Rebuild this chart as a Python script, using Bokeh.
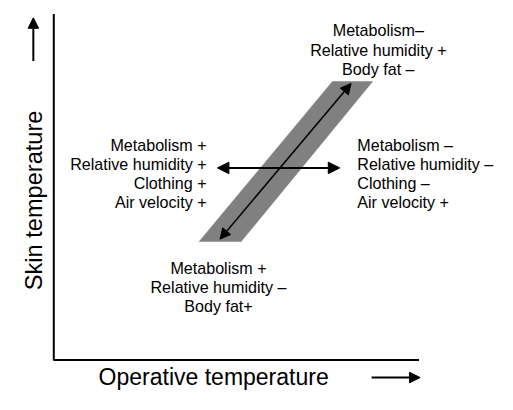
import math
from bokeh.plotting import figure
from bokeh.models import Range1d, Arrow, NormalHead
from bokeh.core.properties import value
from bokeh.embed import file_html
from bokeh.resources import INLINE

# Schematic coordinates: operative temperature (x) and skin temperature (y), axis frame 0..100
frame_x = [0, 0, 100]
frame_y = [100, 0, 0]

band_x = [76.3, 87.3, 51.3, 39.8]
band_y = [80.5, 80.5, 34.2, 34.2]

diag_start = (45.5, 34.9)
diag_end = (81.4, 79.9)

horiz_start = (44.8, 55.5)
horiz_end = (78.3, 55.5)

yarrow_start = (-5.6, 86.4)
yarrow_end = (-5.6, 98.9)
xarrow_start = (87.0, -5.1)
xarrow_end = (100.3, -5.1)

left_lines = ["Metabolism +", "Relative humidity +", "Clothing +", "Air velocity +"]
right_lines = ["Metabolism \u2013", "Relative humidity \u2013", "Clothing \u2013", "Air velocity +"]
top_lines = ["Metabolism\u2013", "Relative humidity +", "Body fat \u2013"]
bottom_lines = ["Metabolism +", "Relative humidity \u2013", "Body fat+"]

x_label = "Operative temperature"
y_label = "Skin temperature"

FONT = value("Liberation Sans")
LINE_STEP = 5.556  # one text line

p = figure(width=497, height=394,
           x_range=Range1d(-14.589, 121.485), y_range=Range1d(-10.0, 103.889),
           x_axis_type=None, y_axis_type=None,
           output_backend="svg", toolbar_location=None, min_border=0)
p.grid.visible = False
p.outline_line_color = None
p.background_fill_color = "white"
p.border_fill_color = "white"

# band
p.patch(band_x, band_y, fill_color="#808080", line_color="#808080", line_width=0.5)

# frame (axes)
p.line(frame_x, frame_y, line_color="black", line_width=2)

def arrow(s, e, lw, size, both=True):
    kw = dict(end=NormalHead(size=size, fill_color="black", line_color="black", line_width=1),
              x_start=s[0], y_start=s[1], x_end=e[0], y_end=e[1],
              line_color="black", line_width=lw)
    kw["start"] = NormalHead(size=size, fill_color="black", line_color="black", line_width=1) if both else None
    p.add_layout(Arrow(**kw))

arrow(diag_start, diag_end, 1.5, 10.5)
arrow(horiz_start, horiz_end, 2, 11.5)
arrow(yarrow_start, yarrow_end, 2, 10.5, both=False)
arrow(xarrow_start, xarrow_end, 2, 10.5, both=False)

def block(lines, x, y0, align):
    ys = [y0 - i * LINE_STEP for i in range(len(lines))]
    p.text(x=[x] * len(lines), y=ys, text=lines, text_align=align,
           text_baseline="alphabetic", text_font=FONT,
           text_font_size=value("16.1px"), text_color="black")

block(left_lines, 41.83, 62.22, "right")
block(right_lines, 83.10, 62.22, "left")
block(top_lines, 88.86, 95.28, "center")
block(bottom_lines, 45.09, 26.67, "center")

p.text(x=[43.77], y=[-1.04], text=[x_label], text_align="center",
       text_baseline="top", text_font=FONT,
       text_font_size=value("23px"), text_color="black")
p.text(x=[-5.31], y=[46.11], text=[y_label], text_align="center",
       text_baseline="alphabetic", angle=math.pi / 2, text_font=FONT,
       text_font_size=value("23.6px"), text_color="black")

open("out.html", "w").write(file_html(p, INLINE))
